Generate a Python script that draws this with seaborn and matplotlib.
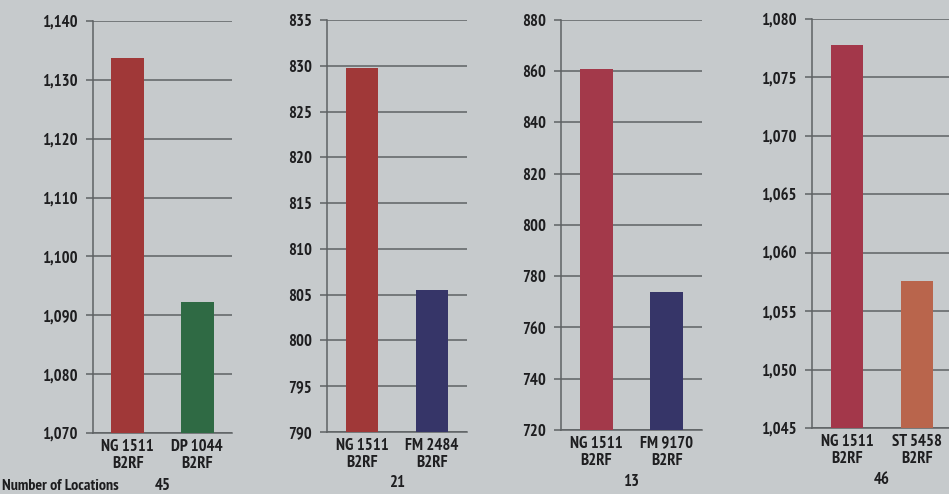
import numpy as np
import pandas as pd
import matplotlib
matplotlib.use("Agg")
import matplotlib.pyplot as plt
import seaborn as sns
from matplotlib import transforms

# data
varieties_1 = ["NG 1511\nB2RF", "DP 1044\nB2RF"]
varieties_2 = ["NG 1511\nB2RF", "FM 2484\nB2RF"]
varieties_3 = ["NG 1511\nB2RF", "FM 9170\nB2RF"]
varieties_4 = ["NG 1511\nB2RF", "ST 5458\nB2RF"]

yield_1 = [1133.7, 1092.3]
yield_2 = [829.8, 805.5]
yield_3 = [860.9, 774.0]
yield_4 = [1077.8, 1057.6]

locations = [45, 21, 13, 46]

y_lo = [1070, 790, 720, 1045]
y_hi = [1140, 835, 880, 1080]
y_step = [10, 5, 20, 5]

colors_1 = ["#a03838", "#2f6a44"]
colors_2 = ["#a03838", "#363568"]
colors_3 = ["#a3394a", "#363568"]
colors_4 = ["#a3374a", "#b9654c"]

# panel boxes in pixels: left, right, top, bottom
boxes = [(93, 232, 21, 433), (327, 467, 20, 432),
         (561, 702, 20, 430), (812, 952, 19, 428)]
count_y = [486, 483, 482, 480]

BG = "#c6cacc"
GRID = "#5e6264"
TXT = "#1e1e20"

sns.set_theme(style="white")
plt.rcParams["font.family"] = ["PT Sans Narrow", "DejaVu Sans"]
plt.rcParams["font.weight"] = "bold"

W, H = 949, 494
fig = plt.figure(figsize=(W / 100, H / 100), dpi=100)
fig.patch.set_facecolor(BG)

panels = [
    (varieties_1, yield_1, colors_1),
    (varieties_2, yield_2, colors_2),
    (varieties_3, yield_3, colors_3),
    (varieties_4, yield_4, colors_4),
]

for i, (names, vals, cols) in enumerate(panels):
    l, r, t, b = boxes[i]
    ax = fig.add_axes([l / W, 1 - b / H, (r - l) / W, (b - t) / H])
    ax.set_facecolor(BG)
    df = pd.DataFrame({"variety": names, "yield": vals})
    sns.barplot(data=df, x="variety", y="yield", hue="variety",
                palette=cols, legend=False, width=0.47,
                saturation=1, linewidth=0, edgecolor="none",
                ax=ax, zorder=3)
    ax.set_xlim(-0.5, 1.5)
    ax.set_ylim(y_lo[i], y_hi[i])
    ticks = np.arange(y_lo[i], y_hi[i] + 1, y_step[i])
    ax.set_yticks(ticks)
    ax.set_yticklabels([f"{v:,.0f}" for v in ticks])
    ax.yaxis.grid(True, color=GRID, lw=1.1, zorder=0)
    ax.set_axisbelow(True)
    for s in ["top", "right"]:
        ax.spines[s].set_visible(False)
    for s in ["left", "bottom"]:
        ax.spines[s].set_color(GRID)
        ax.spines[s].set_linewidth(1.1)
    ax.set_xticks([0, 1])
    ax.set_xticklabels(names, fontsize=12, color=TXT,
                       fontweight="bold", linespacing=1.1)
    ax.set_xticks([-0.5, 0.5, 1.5], minor=True)
    ax.tick_params(axis="x", which="major", length=0, pad=4)
    ax.tick_params(axis="x", which="minor", length=4, width=1.1,
                   color=GRID, direction="out")
    ax.tick_params(axis="y", length=5, width=1.1, color=GRID,
                   direction="out", left=True, labelsize=12,
                   labelcolor=TXT, pad=6)
    for lab in ax.get_yticklabels():
        lab.set_fontweight("bold")
    ax.set_xlabel("")
    ax.set_ylabel("")
    ax.text(0.5, 1 - count_y[i] / H, str(locations[i]),
            transform=transforms.blended_transform_factory(
                ax.transData, fig.transFigure),
            ha="center", va="center", fontsize=12, color=TXT,
            fontweight="bold")

fig.text(2 / W, 1 - 486 / H, "Number of Locations", ha="left", va="center",
         fontsize=11.5, color=TXT, fontweight="bold")

fig.savefig("out.png", dpi=100, facecolor=BG)
